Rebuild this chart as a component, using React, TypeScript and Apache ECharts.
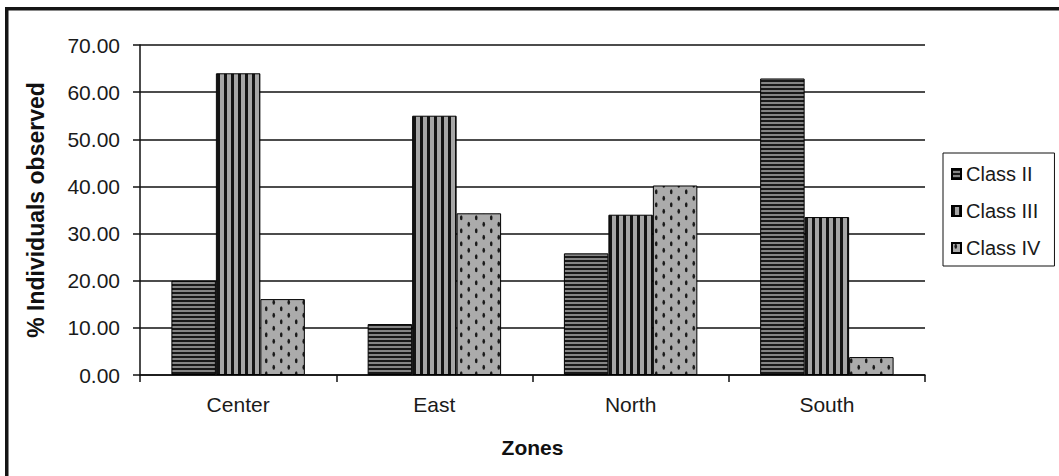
import React, { useEffect, useRef } from "react";
import * as echarts from "echarts";

// Share of individuals observed (%) per zone and size class
const zones = ["Center", "East", "North", "South"];
const seriesNames = ["Class II", "Class III", "Class IV"];
const classII = [20.0, 10.8, 25.8, 62.9];
const classIII = [64.0, 55.0, 34.0, 33.5];
const classIV = [16.1, 34.3, 40.2, 3.8];
const yMin = 0;
const yMax = 70;
const yStep = 10;

const FONT = "'Liberation Sans', Arial, Helvetica, sans-serif";

type Painter = (ctx: CanvasRenderingContext2D) => void;

// Builds a small repeating tile used as a bar fill
function tile(w: number, h: number, paint: Painter) {
  const c = document.createElement("canvas");
  c.width = w;
  c.height = h;
  const ctx = c.getContext("2d") as CanvasRenderingContext2D;
  paint(ctx);
  return {
    image: c.toDataURL(),
    imageWidth: w,
    imageHeight: h,
    repeat: "repeat",
  } as any;
}

function hatchHorizontal() {
  return tile(4, 4, (ctx) => {
    ctx.fillStyle = "#858585";
    ctx.fillRect(0, 0, 4, 4);
    ctx.fillStyle = "#181818";
    ctx.fillRect(0, 0, 4, 2);
  });
}

function hatchVertical() {
  return tile(7, 7, (ctx) => {
    ctx.fillStyle = "#a6a6a6";
    ctx.fillRect(0, 0, 7, 7);
    ctx.fillStyle = "#141414";
    ctx.fillRect(0, 0, 3, 7);
  });
}

function dotted() {
  return tile(15, 13, (ctx) => {
    ctx.fillStyle = "#ababab";
    ctx.fillRect(0, 0, 15, 13);
    ctx.fillStyle = "#1a1a1a";
    const dot = (x: number, y: number) => {
      ctx.beginPath();
      ctx.ellipse(x, y, 1.3, 2.6, 0, 0, Math.PI * 2);
      ctx.fill();
    };
    dot(3.75, 3.25);
    dot(11.25, 9.75);
  });
}

export default function App() {
  const ref = useRef<HTMLDivElement>(null);

  useEffect(() => {
    if (!ref.current) return;
    const chart = echarts.init(ref.current, undefined, { renderer: "svg" });
    const fills = [hatchHorizontal(), hatchVertical(), dotted()];
    const values = [classII, classIII, classIV];

    chart.setOption({
      animation: false,
      backgroundColor: "#ffffff",
      grid: { left: 140, top: 45, right: 134, bottom: 101, containLabel: false },
      legend: {
        orient: "vertical",
        left: 943,
        top: 153,
        padding: [11, 14, 8, 8],
        itemWidth: 9,
        itemHeight: 10,
        itemGap: 17,
        icon: "rect",
        borderColor: "#111",
        borderWidth: 1,
        data: seriesNames,
        textStyle: { fontFamily: FONT, fontSize: 20, lineHeight: 20, color: "#1a1a1a" },
      },
      xAxis: {
        type: "category",
        data: zones,
        name: "Zones",
        nameLocation: "middle",
        nameGap: 62,
        nameTextStyle: { fontFamily: FONT, fontSize: 21, fontWeight: "bold", color: "#111" },
        axisLine: { show: true, lineStyle: { color: "#111", width: 1.5 } },
        axisTick: { show: true, length: 7, lineStyle: { color: "#111", width: 1.5 } },
        axisLabel: { fontFamily: FONT, fontSize: 21, color: "#1a1a1a", margin: 19 },
      },
      yAxis: {
        type: "value",
        min: yMin,
        max: yMax,
        interval: yStep,
        name: "% Individuals observed",
        nameLocation: "middle",
        nameRotate: 90,
        nameGap: 93,
        nameTextStyle: { fontFamily: FONT, fontSize: 23, fontWeight: "bold", color: "#111" },
        axisLine: { show: true, lineStyle: { color: "#111", width: 1.5 } },
        axisTick: { show: true, length: 7, lineStyle: { color: "#111", width: 1.5 } },
        axisLabel: {
          fontFamily: FONT,
          fontSize: 21,
          color: "#1a1a1a",
          margin: 20,
          formatter: (v: number) => v.toFixed(2),
        },
        splitLine: { show: true, lineStyle: { color: "#111", width: 1.5 } },
      },
      series: seriesNames.map((name, i) => ({
        name,
        type: "bar",
        data: values[i],
        barGap: "0%",
        barCategoryGap: "32%",
        itemStyle: { color: fills[i], borderColor: "#000", borderWidth: 1 },
      })),
      graphic: [
        { type: "rect", shape: { x: 5, y: 7, width: 1054, height: 3.5 }, style: { fill: "#151515" } },
        { type: "rect", shape: { x: 5, y: 7, width: 3.5, height: 469 }, style: { fill: "#151515" } },
      ],
    });

    return () => chart.dispose();
  }, []);

  return (
    <div
      ref={ref}
      style={{ position: "fixed", left: 0, top: 0, width: 1059, height: 476, background: "#fff" }}
    />
  );
}
